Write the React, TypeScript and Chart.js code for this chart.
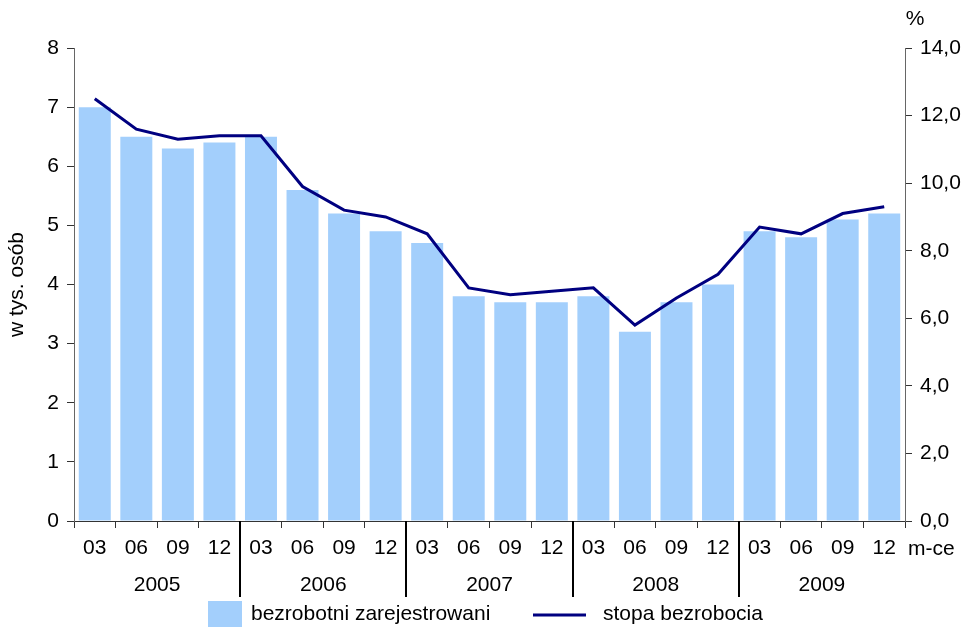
import React, { useEffect, useRef } from "react";
import { Chart, registerables } from "chart.js";

Chart.register(...registerables);

const months = ["03", "06", "09", "12", "03", "06", "09", "12", "03", "06", "09", "12", "03", "06", "09", "12", "03", "06", "09", "12"];
const years = ["2005", "2006", "2007", "2008", "2009"];
const registered = [7.0, 6.5, 6.3, 6.4, 6.5, 5.6, 5.2, 4.9, 4.7, 3.8, 3.7, 3.7, 3.8, 3.2, 3.7, 4.0, 4.9, 4.8, 5.1, 5.2];
const rate = [12.5, 11.6, 11.3, 11.4, 11.4, 9.9, 9.2, 9.0, 8.5, 6.9, 6.7, 6.8, 6.9, 5.8, 6.6, 7.3, 8.7, 8.5, 9.1, 9.3];
const leftTicks = { min: 0, max: 8, step: 1 };
const rightTicks = { min: 0, max: 14, step: 2 };
const barLabel = "bezrobotni zarejestrowani";
const lineLabel = "stopa bezrobocia";

const FONT = "'Liberation Sans', Arial, sans-serif";
const FS = 21;
const BAR_COLOR = "#A3CFFC";
const LINE_COLOR = "#000080";

const extras = {
  id: "extras",
  afterDraw(chart: any) {
    const ctx = chart.ctx;
    const x = chart.scales.x;
    const area = chart.chartArea;
    ctx.save();
    // year separators
    ctx.strokeStyle = "#000";
    ctx.lineWidth = 2;
    for (let g = 1; g < years.length; g++) {
      const i = g * 4;
      const xb = Math.round((x.getPixelForValue(i - 1) + x.getPixelForValue(i)) / 2);
      ctx.beginPath();
      ctx.moveTo(xb, area.bottom);
      ctx.lineTo(xb, area.bottom + 76);
      ctx.stroke();
    }
    // year labels
    ctx.fillStyle = "#000";
    ctx.font = `${FS}px ${FONT}`;
    ctx.textAlign = "center";
    ctx.textBaseline = "middle";
    years.forEach((y, g) => {
      const cx = (x.getPixelForValue(g * 4) + x.getPixelForValue(g * 4 + 3)) / 2;
      ctx.fillText(y, cx, area.bottom + 64);
    });
    // % and m-ce
    ctx.textAlign = "center";
    ctx.fillText("%", area.right + 10, 19);
    ctx.textAlign = "left";
    ctx.fillText("m-ce", area.right + 3, area.bottom + 28);
    // legend
    ctx.fillStyle = BAR_COLOR;
    ctx.fillRect(208, 601, 34, 26);
    ctx.fillStyle = "#000";
    ctx.textAlign = "left";
    ctx.fillText(barLabel, 251, 614);
    ctx.strokeStyle = LINE_COLOR;
    ctx.lineWidth = 3;
    ctx.beginPath();
    ctx.moveTo(533, 615);
    ctx.lineTo(586, 615);
    ctx.stroke();
    ctx.fillText(lineLabel, 603, 614);
    ctx.restore();
  },
};

export default function App() {
  const ref = useRef<HTMLCanvasElement>(null);
  useEffect(() => {
    if (!ref.current) return;
    Chart.defaults.font.family = FONT;
    const chart = new Chart(ref.current, {
      type: "bar",
      data: {
        labels: months,
        datasets: [
          {
            type: "line",
            label: lineLabel,
            data: rate,
            yAxisID: "y1",
            borderColor: LINE_COLOR,
            backgroundColor: LINE_COLOR,
            borderWidth: 3,
            pointRadius: 0,
            tension: 0,
            order: 0,
          } as any,
          {
            type: "bar",
            label: barLabel,
            data: registered,
            yAxisID: "y",
            backgroundColor: BAR_COLOR,
            borderWidth: 0,
            barPercentage: 0.77,
            categoryPercentage: 1,
            order: 1,
          },
        ],
      },
      options: {
        responsive: false,
        animation: false,
        layout: { padding: { top: 48, left: 0, right: 0, bottom: 0 } },
        plugins: { legend: { display: false }, tooltip: { enabled: false } },
        scales: {
          x: {
            offset: true,
            grid: { offset: true, drawOnChartArea: false, drawTicks: true, tickLength: 7, color: "#333" },
            border: { display: true, color: "#333", width: 1 },
            ticks: { color: "#000", font: { size: FS }, padding: 8, maxRotation: 0, autoSkip: false },
            afterFit(scale: any) {
              scale.height = 106;
            },
          },
          y: {
            position: "left",
            min: leftTicks.min,
            max: leftTicks.max,
            ticks: { stepSize: leftTicks.step, color: "#000", font: { size: FS }, padding: 8 },
            grid: { drawOnChartArea: false, drawTicks: true, tickLength: 7, color: "#333" },
            border: { display: true, color: "#666", width: 1 },
            title: { display: true, text: "w tys. osób", color: "#000", font: { size: FS }, padding: { top: 5, bottom: 0 } },
            afterFit(scale: any) {
              scale.width = 74;
            },
          },
          y1: {
            position: "right",
            min: rightTicks.min,
            max: rightTicks.max,
            ticks: {
              stepSize: rightTicks.step,
              color: "#000",
              font: { size: FS },
              padding: 8,
              callback: (v: any) => Number(v).toFixed(1).replace(".", ","),
            },
            grid: { drawOnChartArea: false, drawTicks: true, tickLength: 7, color: "#333" },
            border: { display: true, color: "#666", width: 1 },
            afterFit(scale: any) {
              scale.width = 58;
            },
          },
        },
      },
      plugins: [extras],
    });
    return () => chart.destroy();
  }, []);
  return (
    <div style={{ position: "absolute", left: 0, top: 0, width: 963, height: 627, background: "#fff" }}>
      <canvas ref={ref} width={963} height={627} />
    </div>
  );
}
